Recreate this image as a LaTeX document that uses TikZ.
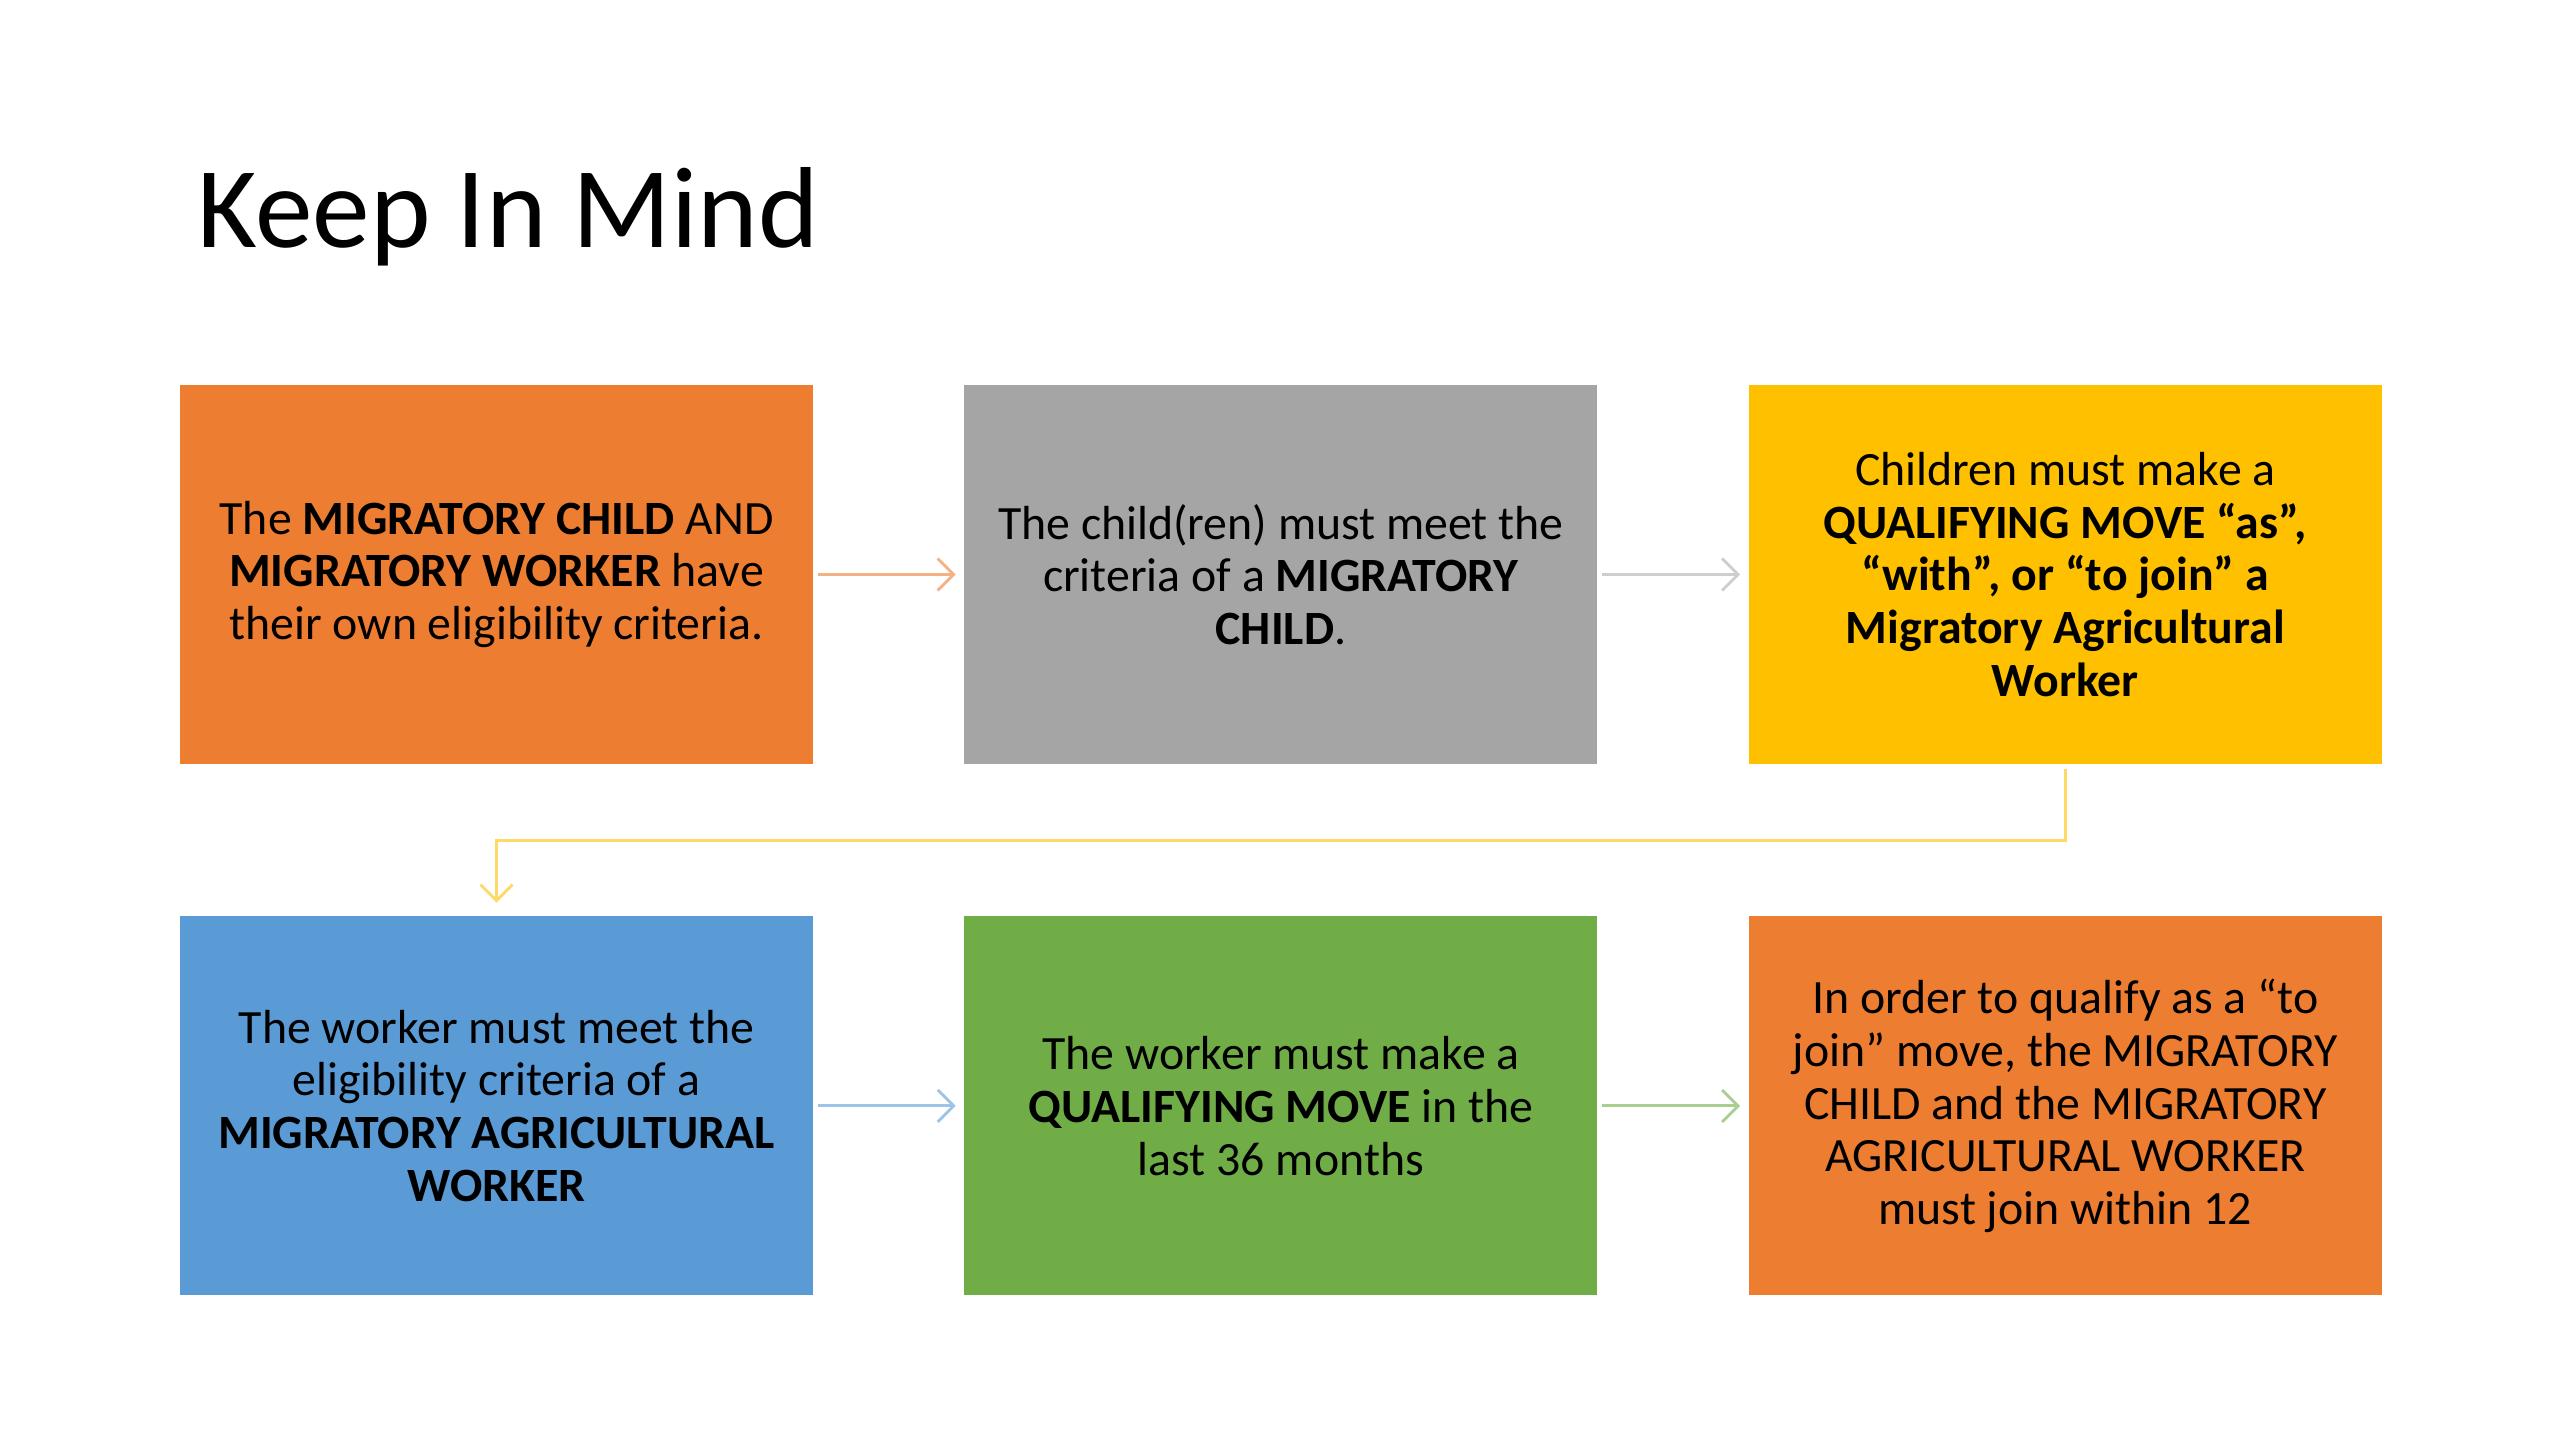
\documentclass[tikz,border=0pt]{standalone}
\usepackage{fontspec}
\setmainfont{Carlito}
\usepackage{tikz}
\usetikzlibrary{positioning, arrows.meta, calc}
\definecolor{boxorange}{RGB}{237,125,49}
\definecolor{boxgray}{RGB}{165,165,165}
\definecolor{boxyellow}{RGB}{255,192,0}
\definecolor{boxblue}{RGB}{91,155,213}
\definecolor{boxgreen}{RGB}{112,173,71}

\begin{document}
\begin{tikzpicture}[
    node distance=1.51cm and 1.5cm,
    card/.style={rectangle, inner sep=0pt, minimum width=6.33cm,
                 minimum height=3.79cm, align=center,
                 font=\fontsize{13.6}{15}\selectfont},
    arr/.style={-{Straight Barb[length=1.6mm, width=3.2mm]}, line width=0.8pt,
                shorten <=0.04cm, shorten >=0.08cm},
  ]
  \useasboundingbox (0,0) rectangle (25.6,14.4);

  % Title
  \node[anchor=base west, inner sep=0pt, font=\fontsize{32.8}{39}\selectfont]
    (title) at (1.97,11.92) {Keep In Mind};

  % First row
  \node[card, fill=boxorange] (child) at (4.965,8.655)
    {The \textbf{MIGRATORY CHILD} AND\\
     \textbf{MIGRATORY WORKER} have\\
     their own eligibility criteria.};
  \node[card, fill=boxgray, right=of child] (criteria)
    {The child(ren) must meet the\\
     criteria of a \textbf{MIGRATORY}\\
     \textbf{CHILD}.};
  \node[card, fill=boxyellow, right=of criteria] (move)
    {Children must make a\\
     \textbf{QUALIFYING MOVE “as”,}\\
     \textbf{“with”, or “to join” a}\\
     \textbf{Migratory Agricultural}\\
     \textbf{Worker}};

  % Second row
  \node[card, fill=boxblue, below=of child] (worker)
    {The worker must meet the\\
     eligibility criteria of a\\
     \textbf{MIGRATORY AGRICULTURAL}\\
     \textbf{WORKER}};
  \node[card, fill=boxgreen, right=of worker] (months)
    {The worker must make a\\
     \textbf{QUALIFYING MOVE} in the\\
     last 36 months};
  \node[card, fill=boxorange, right=of months] (join)
    {In order to qualify as a “to\\
     join” move, the MIGRATORY\\
     CHILD and the MIGRATORY\\
     AGRICULTURAL WORKER\\
     must join within 12};

  % Connectors
  \draw[arr, boxorange!60] (child) -- (criteria);
  \draw[arr, boxgray!55] (criteria) -- (move);
  \coordinate (mid) at ($(move.south)!0.5!(worker.north)$);
  \draw[arr, boxyellow!60, shorten >=0.13cm] (move.south) |- (mid) -| (worker.north);
  \draw[arr, boxblue!60] (worker) -- (months);
  \draw[arr, boxgreen!60] (months) -- (join);

\end{tikzpicture}
\end{document}
